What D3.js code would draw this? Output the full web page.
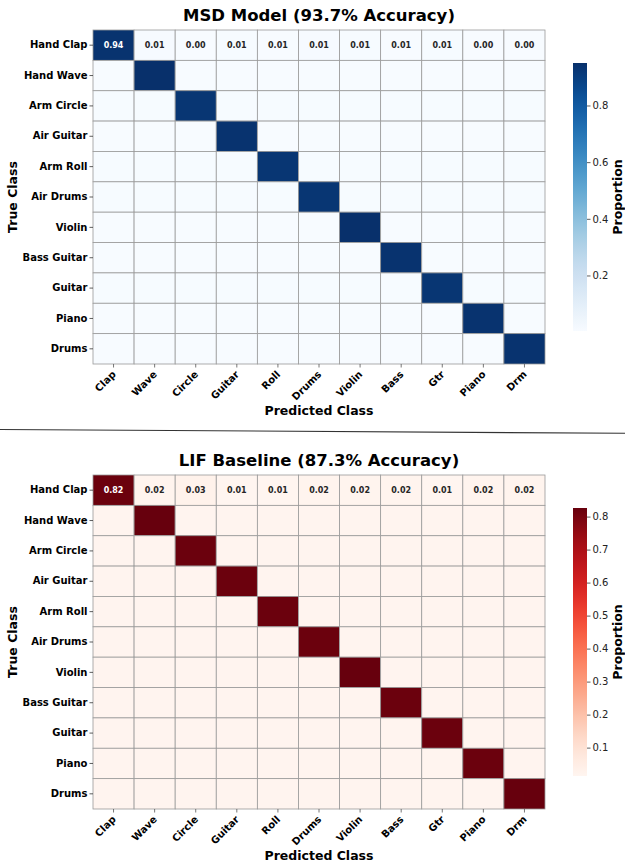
<!DOCTYPE html>
<html>
<head>
<meta charset="utf-8">
<script src="https://cdn.jsdelivr.net/npm/d3@7"></script>
<style>
  html, body { margin: 0; padding: 0; background: #fff; }
  svg { display: block; font-family: "DejaVu Sans", sans-serif; }
</style>
</head>
<body>
<svg id="chart" width="625" height="865"></svg>
<script>
// Gesture classes (rows = true class, columns = predicted class)
const classNames = ["Hand Clap", "Hand Wave", "Arm Circle", "Air Guitar", "Arm Roll", "Air Drums",
                    "Violin", "Bass Guitar", "Guitar", "Piano", "Drums"];
const shortNames = ["Clap", "Wave", "Circle", "Guitar", "Roll", "Drums", "Violin", "Bass", "Gtr", "Piano", "Drm"];

// MSD model: first row of the confusion matrix, diagonal and per-row off-diagonal level
const msdFirstRow = [0.94, 0.008, 0.004, 0.007, 0.006, 0.008, 0.007, 0.006, 0.007, 0.004, 0.004];
const msdDiagonal = [0.94, 0.95, 0.93, 0.94, 0.93, 0.93, 0.95, 0.94, 0.93, 0.94, 0.94];
const msdOffDiagonal = [null, 0.005, 0.007, 0.006, 0.007, 0.007, 0.005, 0.006, 0.007, 0.006, 0.006];
const msdTicks = [0.2, 0.4, 0.6, 0.8];

// LIF baseline
const lifFirstRow = [0.82, 0.02, 0.03, 0.014, 0.014, 0.02, 0.02, 0.02, 0.014, 0.02, 0.02];
const lifDiagonal = [0.82, 0.826, 0.82, 0.82, 0.82, 0.82, 0.826, 0.82, 0.82, 0.82, 0.826];
const lifOffDiagonal = [null, 0.017, 0.018, 0.018, 0.018, 0.018, 0.017, 0.018, 0.018, 0.018, 0.017];
const lifTicks = [0.1, 0.2, 0.3, 0.4, 0.5, 0.6, 0.7, 0.8];

function buildMatrix(firstRow, diag, off) {
  return classNames.map((_, i) => classNames.map((_, j) => {
    if (i === 0) return firstRow[j];
    return i === j ? diag[i] : off[i];
  }));
}

const svg = d3.select("#chart");

function drawPanel(cfg) {
  const { matrix, interp, title, ticks, top } = cfg;
  const gridLeft = 93, gridRight = 545;
  const gridTop = top + 30, gridBottom = top + 364;

  const x = d3.scaleBand().domain(d3.range(classNames.length)).range([gridLeft, gridRight]);
  const y = d3.scaleBand().domain(d3.range(classNames.length)).range([gridTop, gridBottom]);

  const flat = matrix.flat();
  const vmin = d3.min(flat), vmax = d3.max(flat);
  const color = d3.scaleSequential(interp).domain([vmin, vmax]);

  const g = svg.append("g");

  // title
  g.append("text")
    .attr("x", 319).attr("y", top + 15)
    .attr("text-anchor", "middle").attr("dominant-baseline", "central")
    .attr("font-size", 16.5).attr("font-weight", "bold").attr("fill", "#000")
    .text(title);

  // cells
  const cells = [];
  matrix.forEach((row, i) => row.forEach((v, j) => cells.push({ i, j, v })));
  g.selectAll("rect.cell").data(cells).join("rect")
    .attr("class", "cell")
    .attr("x", d => x(d.j)).attr("y", d => y(d.i))
    .attr("width", x.bandwidth()).attr("height", y.bandwidth())
    .attr("fill", d => color(d.v))
    .attr("stroke", "#9a9a9a").attr("stroke-width", 0.8);

  // annotations on the first row
  const fmt = d3.format(".2f");
  g.selectAll("text.annot").data(cells.filter(d => d.i === 0)).join("text")
    .attr("class", "annot")
    .attr("x", d => x(d.j) + x.bandwidth() / 2)
    .attr("y", d => y(d.i) + y.bandwidth() / 2)
    .attr("text-anchor", "middle").attr("dominant-baseline", "central")
    .attr("font-size", 8).attr("font-weight", "bold")
    .attr("fill", d => (d.v - vmin) / (vmax - vmin) > 0.6 ? "#fff" : "#262626")
    .text(d => fmt(d.v));

  // y axis (true class)
  const yAxis = d3.axisLeft(y).tickSize(3.5).tickPadding(2).tickFormat(i => classNames[i]);
  const ya = g.append("g").attr("transform", `translate(${gridLeft},0)`).call(yAxis);
  ya.select(".domain").remove();
  ya.selectAll("line").attr("stroke", "#333").attr("stroke-width", 0.8);
  ya.selectAll("text").attr("font-size", 10).attr("font-weight", "bold").attr("fill", "#000")
    .attr("font-family", "DejaVu Sans");

  // x axis (predicted class)
  const xAxis = d3.axisBottom(x).tickSize(3.5).tickPadding(2).tickFormat(i => shortNames[i]);
  const xa = g.append("g").attr("transform", `translate(0,${gridBottom})`).call(xAxis);
  xa.select(".domain").remove();
  xa.selectAll("line").attr("stroke", "#555").attr("stroke-width", 0.8);
  xa.selectAll("text")
    .attr("font-size", 10).attr("font-weight", "bold").attr("fill", "#000")
    .attr("font-family", "DejaVu Sans")
    .attr("text-anchor", "end")
    .attr("dy", "0")
    .attr("y", 0)
    .attr("transform", "translate(3,11) rotate(-45)");

  // axis titles
  g.append("text")
    .attr("x", 319).attr("y", top + 410)
    .attr("text-anchor", "middle").attr("dominant-baseline", "central")
    .attr("font-size", 12.5).attr("font-weight", "bold").text("Predicted Class");
  g.append("text")
    .attr("transform", `translate(12,${(gridTop + gridBottom) / 2}) rotate(-90)`)
    .attr("text-anchor", "middle").attr("dominant-baseline", "central")
    .attr("font-size", 12.5).attr("font-weight", "bold").text("True Class");

  // colorbar
  const cbX = 573, cbW = 14;
  const cbTop = top + 63, cbBottom = top + 331;
  const cScale = d3.scaleLinear().domain([vmin, vmax]).range([cbBottom, cbTop]);
  const gradId = "grad" + top;
  const grad = svg.append("defs").append("linearGradient")
    .attr("id", gradId).attr("x1", 0).attr("y1", 1).attr("x2", 0).attr("y2", 0);
  d3.range(0, 1.0001, 0.02).forEach(t => {
    grad.append("stop").attr("offset", t).attr("stop-color", interp(t));
  });
  g.append("rect")
    .attr("x", cbX).attr("y", cbTop).attr("width", cbW).attr("height", cbBottom - cbTop)
    .attr("fill", `url(#${gradId})`);
  const cAxis = d3.axisRight(cScale).tickValues(ticks).tickSize(3.5).tickPadding(2).tickFormat(d3.format(".1f"));
  const ca = g.append("g").attr("transform", `translate(${cbX + cbW},0)`).call(cAxis);
  ca.select(".domain").remove();
  ca.selectAll("line").attr("stroke", "#333").attr("stroke-width", 0.8);
  ca.selectAll("text").attr("font-size", 10).attr("fill", "#222").attr("font-family", "DejaVu Sans");
  g.append("text")
    .attr("transform", `translate(617.5,${(cbTop + cbBottom) / 2}) rotate(-90)`)
    .attr("text-anchor", "middle").attr("dominant-baseline", "central")
    .attr("font-size", 12.5).attr("font-weight", "bold").text("Proportion");
}

drawPanel({
  matrix: buildMatrix(msdFirstRow, msdDiagonal, msdOffDiagonal),
  interp: d3.interpolateBlues,
  title: "MSD Model (93.7% Accuracy)",
  ticks: msdTicks,
  top: 0
});

// separator between the two panels
svg.append("line")
  .attr("x1", 0).attr("y1", 429.5).attr("x2", 625).attr("y2", 433.3)
  .attr("stroke", "#333").attr("stroke-width", 1.1);

drawPanel({
  matrix: buildMatrix(lifFirstRow, lifDiagonal, lifOffDiagonal),
  interp: d3.interpolateReds,
  title: "LIF Baseline (87.3% Accuracy)",
  ticks: lifTicks,
  top: 445
});
</script>
</body>
</html>
